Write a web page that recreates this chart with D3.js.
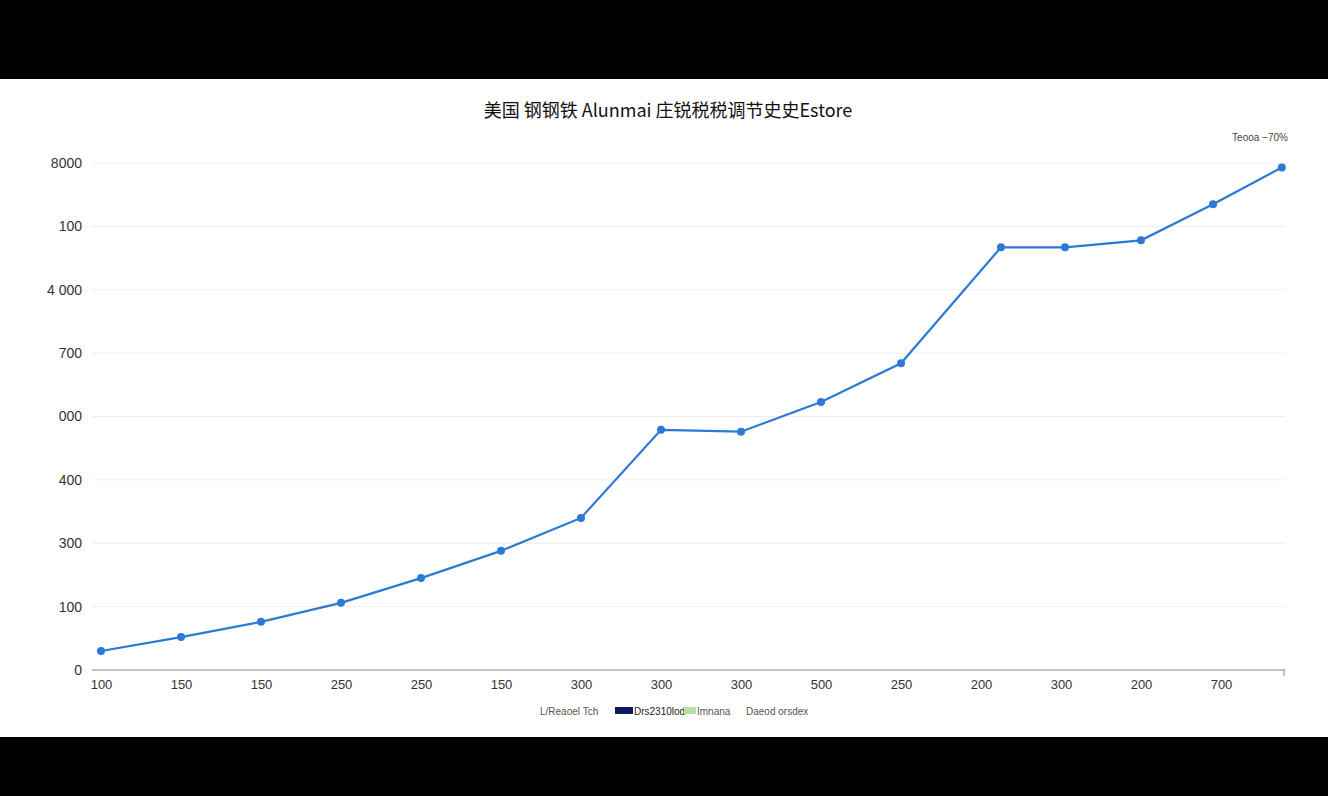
<!DOCTYPE html>
<html><head><meta charset="utf-8">
<script src="https://cdn.jsdelivr.net/npm/d3@7"></script>
<style>body{margin:0;background:#000;}</style>
</head><body>
<script>
const xTickLabels = ['100','150','150','250','250','150','300','300','300','500','250','200','300','200','700'];
const yTickLabels = ['0','100','300','400','000','700','4 000','100','8000'];
const pointX = [0,1,2,3,4,5,6,7,8,9,10,11.25,12.05,13,13.9,14.76];
const pointY = [0.30,0.52,0.76,1.06,1.45,1.88,2.40,3.79,3.76,4.23,4.84,6.67,6.67,6.78,7.35,7.93];

const W = 1328, H = 796;
const svg = d3.select('body').append('svg').attr('width', W).attr('height', H);
svg.append('rect').attr('x', 0).attr('y', 79).attr('width', W).attr('height', 658).attr('fill', '#fff');

const x = d3.scaleLinear().domain([0, 14]).range([101, 1221]);
const y = d3.scaleLinear().domain([0, 8]).range([670, 163]);
const font = 'Liberation Sans, Arial, sans-serif';

// grid
svg.selectAll('.grid').data(d3.range(1, 9)).enter().append('line')
  .attr('x1', 92).attr('x2', 1285).attr('y1', d => y(d)).attr('y2', d => y(d))
  .attr('stroke', '#eeeeee').attr('stroke-width', 1);

// y labels
svg.selectAll('.yl').data(yTickLabels).enter().append('text')
  .attr('x', 82).attr('y', (d, i) => y(i)).attr('dy', '0.35em').attr('text-anchor', 'end')
  .style('font-family', font).style('font-size', '14px').style('fill', '#333').text(d => d);

// x axis
const xAxis = svg.append('g').attr('transform', 'translate(0,670)')
  .call(d3.axisBottom(x).tickValues(d3.range(0, 15)).tickFormat(i => xTickLabels[i]).tickSize(0).tickPadding(10));
xAxis.select('.domain').attr('stroke', '#888').attr('d', 'M92,0H1285');
xAxis.selectAll('text').style('font-family', font).style('font-size', '13px').style('fill', '#333');
svg.append('line').attr('x1', 1284).attr('x2', 1284).attr('y1', 670).attr('y2', 676).attr('stroke', '#888');

// line
const pts = pointX.map((d, i) => [d, pointY[i]]);
svg.append('path').datum(pts)
  .attr('d', d3.line().x(d => x(d[0])).y(d => y(d[1])))
  .attr('fill', 'none').attr('stroke', '#2a7ad6').attr('stroke-width', 2.2);
svg.selectAll('.pt').data(pts).enter().append('circle')
  .attr('cx', d => x(d[0])).attr('cy', d => y(d[1])).attr('r', 4).attr('fill', '#2a7ad6');

// title
svg.append('text').attr('x', 668).attr('y', 111).attr('dy', '0.35em').attr('text-anchor', 'middle')
  .style('font-family', 'Noto Sans CJK SC, sans-serif').style('font-size', '18px').style('fill', '#111')
  .text('美国 钢钢铁 Alunmai 庄锐税税调节史史Estore');

svg.append('text').attr('x', 1288).attr('y', 137).attr('dy', '0.35em').attr('text-anchor', 'end')
  .style('font-family', font).style('font-size', '10px').style('fill', '#444').text('Teooa −70%');

// legend
const lg = svg.append('g').style('font-family', font).style('font-size', '10px').style('fill', '#555');
lg.append('text').attr('x', 540).attr('y', 711).attr('dy', '0.35em').text('L/Reaoel Tch');
lg.append('rect').attr('x', 615).attr('y', 707).attr('width', 18).attr('height', 7).attr('fill', '#0d1a5c');
lg.append('text').attr('x', 634).attr('y', 711).attr('dy', '0.35em').style('fill', '#222').text('Drs2310lod');
lg.append('rect').attr('x', 684).attr('y', 707).attr('width', 12).attr('height', 7).attr('fill', '#b6e3a3');
lg.append('text').attr('x', 697).attr('y', 711).attr('dy', '0.35em').text('Imnana');
lg.append('text').attr('x', 746).attr('y', 711).attr('dy', '0.35em').text('Daeod orsdex');
</script>
</body></html>
